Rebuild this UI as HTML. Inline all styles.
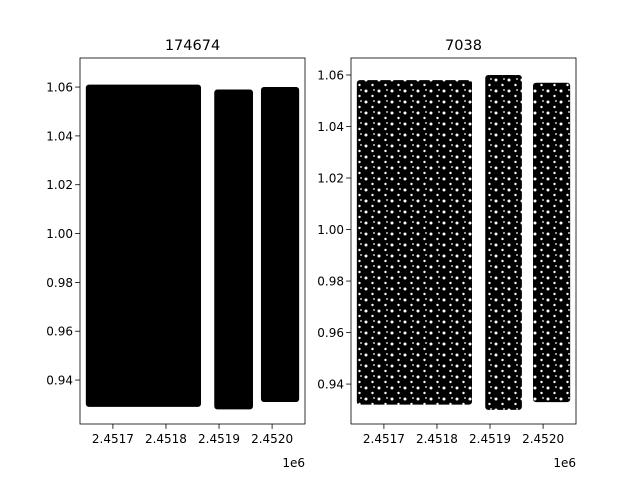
<!DOCTYPE html>
<html><head><meta charset="utf-8"><style>
html,body{margin:0;padding:0;background:#fff;}
svg text{font-family:"DejaVu Sans","Liberation Sans",sans-serif;fill:#000;}
</style></head><body>
<svg id="fig" width="640" height="480" xmlns="http://www.w3.org/2000/svg">
<defs>
<pattern id="holes" width="13" height="11" patternUnits="userSpaceOnUse">
<rect width="13" height="11" fill="#000"/>
<circle cx="2" cy="3" r="1.5" fill="#fff"/>
<circle cx="8.5" cy="8" r="1.2" fill="#fff"/>
<circle cx="10" cy="2" r="0.9" fill="#fff"/>
</pattern>
</defs>
</svg>
<script>
const titles = ["174674", "7038"];
const xTicks = [2451700, 2451800, 2451900, 2452000];
const xTickLabels = ["2.4517", "2.4518", "2.4519", "2.4520"];
const yTicks = [0.94, 0.96, 0.98, 1.00, 1.02, 1.04, 1.06];
const yTickLabels = ["0.94", "0.96", "0.98", "1.00", "1.02", "1.04", "1.06"];
const bandStartsA = [2451649, 2451891, 2451979];
const bandEndsA = [2451866, 2451964, 2452051];
const bandMinA = [0.929, 0.928, 0.931];
const bandMaxA = [1.061, 1.059, 1.060];
const bandStartsB = [2451649, 2451891, 2451981];
const bandEndsB = [2451866, 2451960, 2452051];
const bandMinB = [0.932, 0.930, 0.933];
const bandMaxB = [1.058, 1.060, 1.057];

const svg = document.getElementById('fig');
const NS = 'http://www.w3.org/2000/svg';
function mk(tag, attrs){const e=document.createElementNS(NS,tag);for(const k in attrs)e.setAttribute(k,attrs[k]);svg.appendChild(e);return e;}

const panels = [
 {x0:80,x1:305,y0:58,y1:424,xmin:2451638,xmax:2452062,ymin:0.922,ymax:1.0719,s:bandStartsA,e:bandEndsA,lo:bandMinA,hi:bandMaxA,fill:'#000'},
 {x0:351,x1:576,y0:58,y1:424,xmin:2451638,xmax:2452062,ymin:0.9245,ymax:1.0666,s:bandStartsB,e:bandEndsB,lo:bandMinB,hi:bandMaxB,fill:'url(#holes)'}
];
panels.forEach((p,i)=>{
 const sx=v=>p.x0+(v-p.xmin)/(p.xmax-p.xmin)*(p.x1-p.x0);
 const sy=v=>p.y1-(v-p.ymin)/(p.ymax-p.ymin)*(p.y1-p.y0);
 for(let j=0;j<p.s.length;j++){
  const r=mk('rect',{x:sx(p.s[j]),y:sy(p.hi[j]),width:sx(p.e[j])-sx(p.s[j]),height:sy(p.lo[j])-sy(p.hi[j]),fill:p.fill,rx:3});
  
  
 }
 const fr=mk('rect',{x:p.x0,y:p.y0,width:p.x1-p.x0,height:p.y1-p.y0,fill:'none',stroke:'#000','stroke-width':0.8});
 
 
 xTicks.forEach((t,k)=>{
  const x=sx(t);
  mk('line',{x1:x,x2:x,y1:p.y1,y2:p.y1+4.9,stroke:'#000','stroke-width':0.8});
  const tx=mk('text',{x:x,y:p.y1+19,'font-size':12,'text-anchor':'middle'});
  tx.textContent=xTickLabels[k];
  
  
 });
 yTicks.forEach((t,k)=>{
  const y=sy(t);
  mk('line',{x1:p.x0-4.9,x2:p.x0,y1:y,y2:y,stroke:'#000','stroke-width':0.8});
  const tx=mk('text',{x:p.x0-7,y:y+4.5,'font-size':12,'text-anchor':'end'});
  tx.textContent=yTickLabels[k];
  
  
 });
 const tt=mk('text',{x:(p.x0+p.x1)/2,y:p.y0-8,'font-size':14.5,'text-anchor':'middle'});
 tt.textContent=titles[i];
 
 
 const off=mk('text',{x:p.x1,y:p.y1+43,'font-size':12,'text-anchor':'end'});
 off.textContent='1e6';
 
 
});
</script>
</body></html>
